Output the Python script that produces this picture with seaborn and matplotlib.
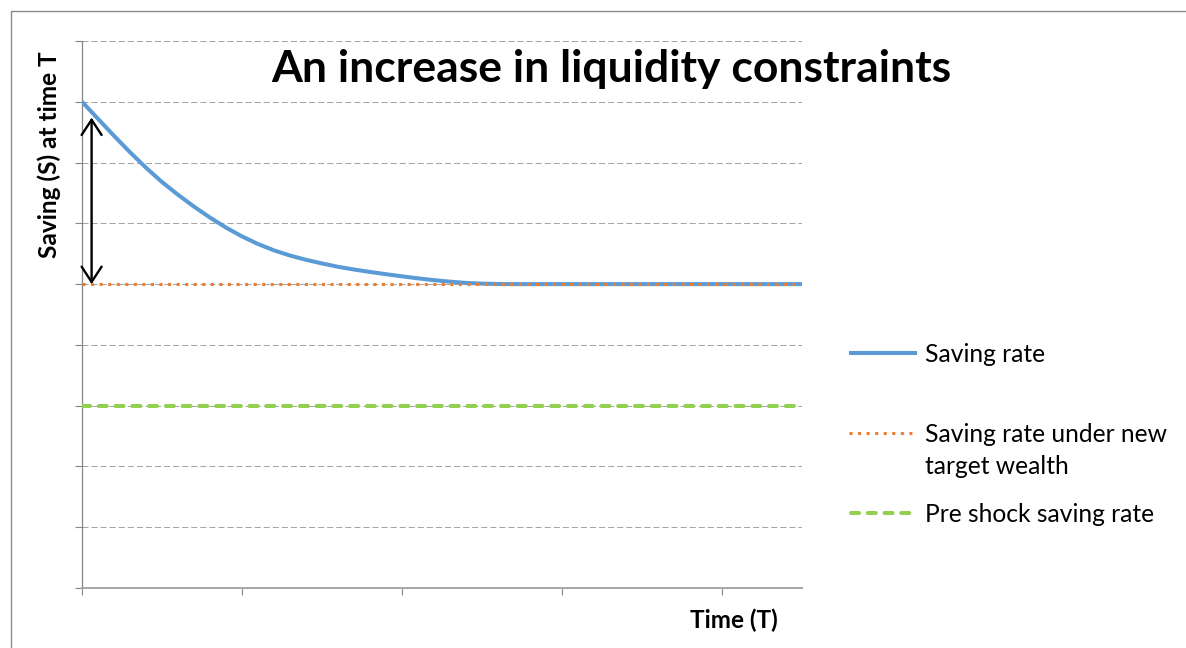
import numpy as np
import pandas as pd
import matplotlib
matplotlib.use("Agg")
import matplotlib.pyplot as plt
import seaborn as sns
from matplotlib.lines import Line2D
from matplotlib.patches import Rectangle

# ---------------- data ----------------
time_points = list(range(0, 29)) + [45]
saving_rate = [8.000, 7.720, 7.440, 7.170, 6.915, 6.680, 6.470, 6.275, 6.095, 5.930,
               5.785, 5.660, 5.555, 5.470, 5.400, 5.340, 5.285, 5.240, 5.200, 5.163,
               5.128, 5.095, 5.065, 5.040, 5.020, 5.008, 5.002, 5.000, 5.000, 5.000]
time_span = [0, 45]
new_target_rate = 5.0
pre_shock_rate = 3.0
x_ticks = [0, 10, 20, 30, 40]
y_ticks = list(range(0, 10))
y_max = 9
arrow_time = 0.6
arrow_top = 7.74

title_text = "An increase in liquidity constraints"
y_label = "Saving (S) at time T"
x_label = "Time (T)"
legend_labels = ["Saving rate", "Saving rate under new\ntarget wealth", "Pre shock saving rate"]

# ---------------- style ----------------
sns.set_style("white")
plt.rcParams["font.family"] = ["Lato", "DejaVu Sans"]
plt.rcParams["text.color"] = "black"

BLUE = "#5B9BD5"
ORANGE = "#ED7D31"
GREEN = "#92D050"
GRID = "#A6A6A6"
AXIS = "#868686"

BLUE_STYLE = dict(lw=2.9, ls="-", cap="butt")
ORANGE_STYLE = dict(lw=2.2, ls=(0, (1.0, 1.8)), cap="butt")
GREEN_STYLE = dict(lw=2.9, ls=(0, (2.0, 2.16)), cap="round")

W, H = 1186, 648
fig = plt.figure(figsize=(W / 100, H / 100), dpi=100)


def fx(px):
    return px / W


def fy(py):
    return 1 - py / H


ax = fig.add_axes([fx(82), fy(588), 720 / W, 547 / H])

# figure frame (left and top visible)
fig.add_artist(Rectangle((fx(10.5), -0.2), 2, fy(10.5) + 0.2, transform=fig.transFigure,
                         fill=False, edgecolor="#8C8C8C", lw=1.0))

# lines
df = pd.DataFrame({"t": time_points, "s": saving_rate})
sns.lineplot(data=df, x="t", y="s", ax=ax, color=BLUE, zorder=3)
l_bl = ax.lines[-1]
l_bl.set_linewidth(BLUE_STYLE["lw"])
l_bl.set_solid_capstyle("butt")
l_bl.set_solid_joinstyle("round")

sns.lineplot(x=time_span, y=[new_target_rate] * len(time_span), ax=ax,
             color=ORANGE, zorder=4)
l_or = ax.lines[-1]
l_or.set_linewidth(ORANGE_STYLE["lw"])
l_or.set_linestyle(ORANGE_STYLE["ls"])
l_or.set_dash_capstyle(ORANGE_STYLE["cap"])

sns.lineplot(x=time_span, y=[pre_shock_rate] * len(time_span), ax=ax,
             color=GREEN, zorder=4)
l_gr = ax.lines[-1]
l_gr.set_linewidth(GREEN_STYLE["lw"])
l_gr.set_linestyle(GREEN_STYLE["ls"])
l_gr.set_dash_capstyle(GREEN_STYLE["cap"])

# arrow
ax.annotate("", xy=(arrow_time, arrow_top), xytext=(arrow_time, new_target_rate),
            arrowprops=dict(arrowstyle="<->,head_length=0.55,head_width=0.36",
                            color="black", lw=1.7, shrinkA=0, shrinkB=0,
                            mutation_scale=20), zorder=5)

# axes
ax.set_xlim(time_span[0], time_span[-1])
ax.set_ylim(0, y_max)
ax.set_xticks(x_ticks)
ax.set_yticks(y_ticks)
ax.set_xticklabels([])
ax.set_yticklabels([])
ax.set_xlabel("")
ax.set_ylabel("")
ax.tick_params(axis="both", direction="out", length=5, width=0.8, color=AXIS,
               left=True, bottom=True)
ax.yaxis.grid(True, color=GRID, lw=0.75, linestyle=(0, (5.8, 2.9)))
ax.xaxis.grid(False)
ax.set_axisbelow(True)
for side in ["top", "right"]:
    ax.spines[side].set_visible(False)
ax.spines["left"].set_color(AXIS)
ax.spines["left"].set_linewidth(0.9)
ax.spines["bottom"].set_color(GRID)
ax.spines["bottom"].set_linewidth(1.4)

# texts
fig.text(fx(611), fy(81.7), title_text, fontsize=32, fontweight="bold",
         ha="center", va="baseline", color="black")
fig.text(fx(49), fy(155), y_label, fontsize=17.6, fontweight="bold",
         rotation=90, ha="center", va="center", color="black")
fig.text(fx(733.5), fy(628), x_label, fontsize=17.5, fontweight="bold",
         ha="center", va="baseline", color="black")

# legend (manual, handle aligned with first line of label)
handles = [
    dict(color=BLUE, **BLUE_STYLE),
    dict(color=ORANGE, **ORANGE_STYLE),
    dict(color=GREEN, **GREEN_STYLE),
]
row_centers = [353, 433, 513]
line_gap = 33
for lab, hd, yc in zip(legend_labels, handles, row_centers):
    x0 = 849 if hd["cap"] == "butt" else 851
    x1 = 917 if hd["cap"] == "butt" else 915
    ln = Line2D([fx(x0), fx(x1)], [fy(yc), fy(yc)], transform=fig.transFigure,
                color=hd["color"], lw=hd["lw"], linestyle=hd["ls"],
                dash_capstyle=hd["cap"], solid_capstyle="butt")
    fig.add_artist(ln)
    for i, part in enumerate(lab.split("\n")):
        fig.text(fx(925), fy(yc + 8.5 + i * line_gap), part, fontsize=17.7,
                 ha="left", va="baseline", color="black")

fig.savefig("out.png", dpi=100)
